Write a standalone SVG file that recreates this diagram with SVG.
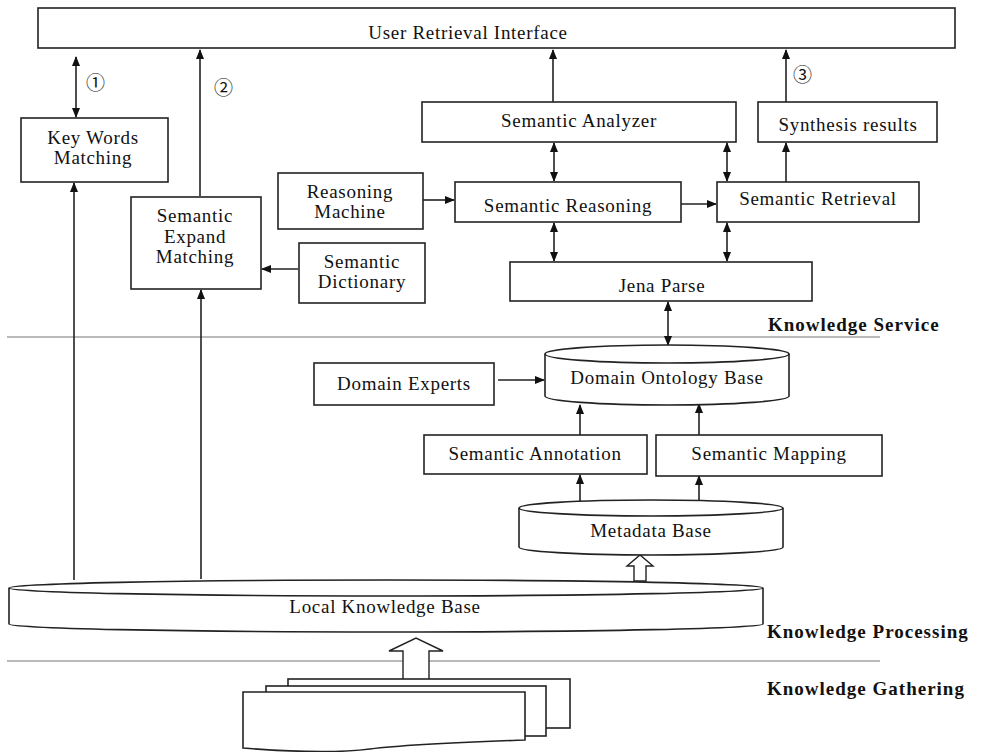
<svg xmlns="http://www.w3.org/2000/svg" width="982" height="752" viewBox="0 0 982 752">
<style>
.b{fill:#fff;stroke:#222;stroke-width:1.6}
.t{font-family:"Liberation Serif",serif;font-size:19px;letter-spacing:0.7px;fill:#111;text-anchor:middle}
.k{font-family:"Liberation Serif",serif;font-size:19px;font-weight:bold;letter-spacing:1px;fill:#111}
.n{font-family:"Noto Sans CJK SC","DejaVu Sans",sans-serif;font-size:19px;fill:#111}
.c{stroke:#222;stroke-width:1.6;fill:none}
.h{fill:#fff;stroke:#222;stroke-width:1.4}
.sep{stroke:#777;stroke-width:1.2}
</style>
<defs>
<marker id="a" markerWidth="10" markerHeight="10" refX="9" refY="5" orient="auto-start-reverse" markerUnits="userSpaceOnUse"><path d="M0,1 L10,5 L0,9 Z" fill="#111"/></marker>
</defs>
<rect width="982" height="752" fill="#fff"/>
<g id="separators">
<line class="sep" x1="7" y1="337" x2="880" y2="337"/>
<line class="sep" x1="7" y1="661" x2="880" y2="661"/>
</g>
<g id="layer-labels">
<text class="k" x="768" y="331">Knowledge Service</text>
<text class="k" x="767" y="638">Knowledge Processing</text>
<text class="k" x="767" y="695">Knowledge Gathering</text>
</g>
<g id="connectors">
<line class="c" x1="76" y1="117" x2="76" y2="57" marker-start="url(#a)" marker-end="url(#a)"/>
<line class="c" x1="200" y1="196" x2="200" y2="50" marker-end="url(#a)"/>
<line class="c" x1="553" y1="102" x2="553" y2="50" marker-end="url(#a)"/>
<line class="c" x1="786" y1="102" x2="786" y2="50" marker-end="url(#a)"/>
<line class="c" x1="786" y1="182" x2="786" y2="143" marker-end="url(#a)"/>
<line class="c" x1="554" y1="143" x2="554" y2="181" marker-start="url(#a)" marker-end="url(#a)"/>
<line class="c" x1="727" y1="143" x2="727" y2="181" marker-start="url(#a)" marker-end="url(#a)"/>
<line class="c" x1="554" y1="223" x2="554" y2="261" marker-start="url(#a)" marker-end="url(#a)"/>
<line class="c" x1="727" y1="223" x2="727" y2="261" marker-start="url(#a)" marker-end="url(#a)"/>
<line class="c" x1="668" y1="302" x2="668" y2="345" marker-start="url(#a)" marker-end="url(#a)"/>
<line class="c" x1="423" y1="200" x2="454" y2="200" marker-end="url(#a)"/>
<line class="c" x1="681" y1="204" x2="716" y2="204" marker-end="url(#a)"/>
<line class="c" x1="298" y1="269" x2="262" y2="269" marker-end="url(#a)"/>
<line class="c" x1="498" y1="380" x2="544" y2="380" marker-end="url(#a)"/>
<line class="c" x1="580" y1="435" x2="580" y2="405" marker-end="url(#a)"/>
<line class="c" x1="699" y1="435" x2="699" y2="404" marker-end="url(#a)"/>
<line class="c" x1="580" y1="502" x2="580" y2="475" marker-end="url(#a)"/>
<line class="c" x1="699" y1="502" x2="699" y2="476" marker-end="url(#a)"/>
<line class="c" x1="74" y1="580" x2="74" y2="183" marker-end="url(#a)"/>
<line class="c" x1="201" y1="579" x2="201" y2="290" marker-end="url(#a)"/>
<path class="h" d="M634,581 V566 H627 L640,555 L653,566 H646 V581 Z"/>
<path class="h" d="M403,681 V651 H389 L416,638 L443,651 H429 V681 Z"/>
</g>
<g id="num1"><text class="n" x="86" y="90">①</text></g>
<g id="num2"><text class="n" x="214" y="95">②</text></g>
<g id="num3"><text class="n" x="793" y="82">③</text></g>
<g id="user-retrieval-interface">
<rect class="b" x="38" y="8" width="917" height="40"/>
<text class="t" x="468" y="39">User Retrieval Interface</text>
</g>
<g id="key-words-matching">
<rect class="b" x="21" y="118" width="147" height="64"/>
<text class="t" x="93" y="144">Key Words</text>
<text class="t" x="93" y="164">Matching</text>
</g>
<g id="semantic-expand-matching">
<rect class="b" x="131" y="197" width="130" height="92"/>
<text class="t" x="195" y="222">Semantic</text>
<text class="t" x="195" y="243">Expand</text>
<text class="t" x="195" y="263">Matching</text>
</g>
<g id="reasoning-machine">
<rect class="b" x="278" y="173" width="145" height="56"/>
<text class="t" x="350" y="198">Reasoning</text>
<text class="t" x="350" y="218">Machine</text>
</g>
<g id="semantic-dictionary">
<rect class="b" x="299" y="243" width="126" height="60"/>
<text class="t" x="362" y="268">Semantic</text>
<text class="t" x="362" y="288">Dictionary</text>
</g>
<g id="semantic-analyzer">
<rect class="b" x="422" y="102" width="314" height="40"/>
<text class="t" x="579" y="127">Semantic Analyzer</text>
</g>
<g id="synthesis-results">
<rect class="b" x="758" y="102" width="179" height="40"/>
<text class="t" x="848" y="131">Synthesis results</text>
</g>
<g id="semantic-reasoning">
<rect class="b" x="455" y="182" width="226" height="40"/>
<text class="t" x="568" y="212">Semantic Reasoning</text>
</g>
<g id="semantic-retrieval">
<rect class="b" x="717" y="182" width="202" height="40"/>
<text class="t" x="818" y="205">Semantic Retrieval</text>
</g>
<g id="jena-parse">
<rect class="b" x="510" y="262" width="302" height="39"/>
<text class="t" x="662" y="292">Jena Parse</text>
</g>
<g id="domain-ontology-base">
<path class="b" d="M545,354 A122,9 0 0 1 789,354 V396 A122,9 0 0 1 545,396 Z"/>
<path class="c" d="M545,354 A122,9 0 0 0 789,354"/>
<text class="t" x="667" y="384">Domain Ontology Base</text>
</g>
<g id="domain-experts">
<rect class="b" x="314" y="363" width="180" height="42"/>
<text class="t" x="404" y="390">Domain Experts</text>
</g>
<g id="semantic-annotation">
<rect class="b" x="424" y="435" width="223" height="39"/>
<text class="t" x="535" y="460">Semantic Annotation</text>
</g>
<g id="semantic-mapping">
<rect class="b" x="656" y="435" width="226" height="41"/>
<text class="t" x="769" y="460">Semantic Mapping</text>
</g>
<g id="metadata-base">
<path class="b" d="M519,508 A132,8 0 0 1 783,508 V547 A132,8 0 0 1 519,547 Z"/>
<path class="c" d="M519,508 A132,8 0 0 0 783,508"/>
<text class="t" x="651" y="537">Metadata Base</text>
</g>
<g id="local-knowledge-base">
<path class="b" d="M9,588 A377,8 0 0 1 763,588 V624 A377,8 0 0 1 9,624 Z"/>
<path class="c" d="M9,588 A377,8 0 0 0 763,588"/>
<text class="t" x="385" y="613">Local Knowledge Base</text>
</g>
<g id="documents">
<rect class="b" x="288" y="679" width="282" height="49"/>
<rect class="b" x="266" y="686" width="280" height="50"/>
<path class="b" d="M243,692 H525 V740 C470,742 410,744 370,749 C330,754 280,751 243,748 Z"/>
</g>
</svg>
